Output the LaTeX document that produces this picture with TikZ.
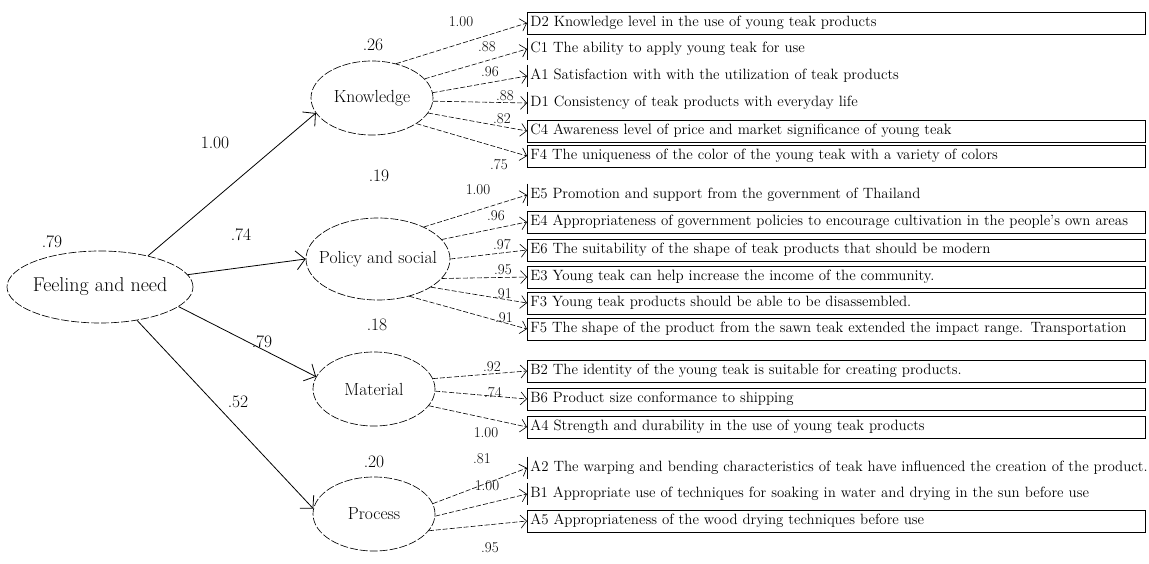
\documentclass[tikz,border=0pt]{standalone}
\usepackage{fontspec}
\usetikzlibrary{arrows.meta,shapes.geometric}
\begin{document}
\begin{tikzpicture}[x=1pt,y=-1pt,
  lat/.style={ellipse, draw, line width=0.65pt, dash pattern=on 8pt off 2pt, inner sep=0pt, font=\fontsize{17.5}{17.5}\selectfont},
  ind/.style={draw, line width=0.7pt, anchor=west, minimum height=22pt, text width=612pt, inner xsep=3pt, inner ysep=0pt, align=left, font=\fontsize{14.9}{16}\selectfont},
  indo/.style={ind, draw=none, text width=640pt},
  sarr/.style={line width=0.8pt, -{Straight Barb[length=9pt,width=19pt,line width=0.8pt]}},
  larr/.style={line width=0.6pt, dash pattern=on 5pt off 2pt, -{Straight Barb[length=6pt,width=13pt,line width=0.6pt]}},
  lab/.style={font=\fontsize{15}{15}\selectfont, inner sep=0pt},
  blab/.style={font=\fontsize{17.5}{17.5}\selectfont, inner sep=0pt}
]
\useasboundingbox (0,0) rectangle (1149,564);

% latent variables
\node[lat, minimum width=186pt, minimum height=72pt, font=\fontsize{20}{20}\selectfont] (F) at (100,287) {\makebox[0pt]{Feeling and need}};
\node[lat, minimum width=122pt, minimum height=74pt] (K) at (372,98) {\makebox[0pt]{Knowledge}};
\node[lat, minimum width=144pt, minimum height=82pt] (P) at (378,259) {\makebox[0pt]{Policy and social}};
\node[lat, minimum width=122pt, minimum height=74pt] (M) at (374,389) {\makebox[0pt]{Material}};
\node[lat, minimum width=122pt, minimum height=74pt] (R) at (374,514) {\makebox[0pt]{Process}};

% indicators
\node[ind]  (D2) at (527,23)  {D2 Knowledge level in the use of young teak products};
\node[indo] (C1) at (527,49)  {C1 The ability to apply young teak for use};
\node[indo] (A1) at (527,76)  {A1 Satisfaction with with the utilization of teak products};
\node[indo] (D1) at (527,103) {D1 Consistency of teak products with everyday life};
\node[ind]  (C4) at (527,131) {C4 Awareness level of price and market significance of young teak};
\node[ind]  (F4) at (527,156) {F4 The uniqueness of the color of the young teak with a variety of colors};
\node[indo] (E5) at (527,195) {E5 Promotion and support from the government of Thailand};
\node[ind]  (E4) at (527,222) {E4 Appropriateness of government policies to encourage cultivation in the people's own areas};
\node[ind]  (E6) at (527,250) {E6 The suitability of the shape of teak products that should be modern};
\node[ind]  (E3) at (527,277) {E3 Young teak can help increase the income of the community.};
\node[ind]  (F3) at (527,303) {F3 Young teak products should be able to be disassembled.};
\node[ind]  (F5) at (527,329) {F5 The shape of the product from the sawn teak extended the impact range. Transportation};
\node[ind]  (B2) at (527,371) {B2 The identity of the young teak is suitable for creating products.};
\node[ind]  (B6) at (527,399) {B6 Product size conformance to shipping};
\node[ind]  (A4) at (527,427) {A4 Strength and durability in the use of young teak products};
\node[indo] (A2) at (527,468) {A2 The warping and bending characteristics of teak have influenced the creation of the product.};
\node[indo] (B1) at (527,494) {B1 Appropriate use of techniques for soaking in water and drying in the sun before use};
\node[ind]  (A5) at (527,521) {A5 Appropriateness of the wood drying techniques before use};

\foreach \n in {C1,A1,D1,E5,A2,B1}
  \draw[line width=0.7pt] (\n.north west) -- (\n.south west);

% structural paths
\draw[sarr] (F.33) -- (K.195);
\draw[sarr] (F.8) -- (P.180);
\draw[sarr] (F.-14) -- (M.168);
\draw[sarr] (F.-42) -- (R.175);

% measurement paths
\draw[larr] (K.55) -- (D2.west);
\draw[larr] (K.20) -- (C1.west);
\draw[larr] (K.5) -- (A1.west);
\draw[larr] (K.-3) -- (D1.west);
\draw[larr] (K.-15) -- (C4.west);
\draw[larr] (K.-30) -- (F4.west);

\draw[larr] (P.35) -- (E5.west);
\draw[larr] (P.17) -- (E4.west);
\draw[larr] (P.0) -- (E6.west);
\draw[larr] (P.-17) -- (E3.west);
\draw[larr] (P.-28) -- (F3.west);
\draw[larr] (P.-50) -- (F5.west);

\draw[larr] (M.10) -- (B2.west);
\draw[larr] (M.-2) -- (B6.west);
\draw[larr] (M.-17) -- (A4.west);

\draw[larr] (R.10) -- (A2.west);
\draw[larr] (R.-2) -- (B1.west);
\draw[larr] (R.-17) -- (A5.west);

% structural labels
\node[blab] (l1) at (52,242) {.79};
\node[blab] (l2) at (215,143) {1.00};
\node[blab] (l3) at (241,235) {.74};
\node[blab] (l4) at (262,342) {.79};
\node[blab] (l5) at (238,402) {.52};
\node[blab] (l6) at (373,45) {.26};
\node[blab] (l7) at (379,176) {.19};
\node[blab] (l8) at (377,325) {.18};
\node[blab] (l9) at (374,462) {.20};

% loading labels
\node[lab] (k1) at (461,22) {1.00};
\node[lab] (k2) at (487,47) {.88};
\node[lab] (k3) at (490,72) {.96};
\node[lab] (k4) at (505,96) {.88};
\node[lab] (k5) at (502,119) {.82};
\node[lab] (k6) at (499,165) {.75};
\node[lab] (p1) at (478,190) {1.00};
\node[lab] (p2) at (496,216) {.96};
\node[lab] (p3) at (502,245) {.97};
\node[lab] (p4) at (503,270) {.95};
\node[lab] (p5) at (503,294) {.91};
\node[lab] (p6) at (504,318) {.91};
\node[lab] (m1) at (492,367) {.92};
\node[lab] (m2) at (493,393) {.74};
\node[lab] (m3) at (486,433) {1.00};
\node[lab] (r1) at (482,459) {.81};
\node[lab] (r2) at (487,486) {1.00};
\node[lab] (r3) at (490,548) {.95};
\end{tikzpicture}
\end{document}
